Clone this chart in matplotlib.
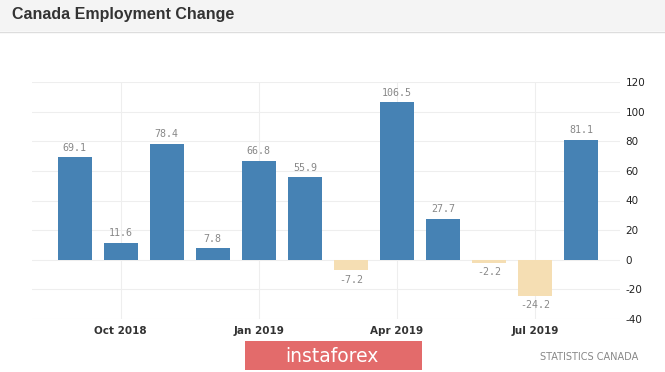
import matplotlib.pyplot as plt
from matplotlib.patches import Rectangle
import numpy as np

plt.rcParams['axes.unicode_minus'] = False

# monthly employment change, thousands (Sep 2018 .. Aug 2019)
months = ['Sep 2018', 'Oct 2018', 'Nov 2018', 'Dec 2018', 'Jan 2019', 'Feb 2019',
          'Mar 2019', 'Apr 2019', 'May 2019', 'Jun 2019', 'Jul 2019', 'Aug 2019']
values = [69.1, 11.6, 78.4, 7.8, 66.8, 55.9, -7.2, 106.5, 27.7, -2.2, -24.2, 81.1]
tick_months = ['Oct 2018', 'Jan 2019', 'Apr 2019', 'Jul 2019']
yticks = [-40, -20, 0, 20, 40, 60, 80, 100, 120]

fig = plt.figure(figsize=(6.65, 3.72), dpi=100)

# header band
fig.patches.append(Rectangle((0, 1 - 31/372), 1, 31/372, transform=fig.transFigure,
                             facecolor='#f4f4f4', edgecolor='none', zorder=0))
fig.add_artist(plt.Line2D([0, 1], [1 - 32/372, 1 - 32/372], transform=fig.transFigure,
                          color='#dddddd', lw=1))
fig.text(12/665, 1 - 15/372, 'Canada Employment Change', family='Liberation Sans',
         weight='bold', fontsize=11.5, color='#333333', va='center', ha='left')

ax = fig.add_axes([32/665, 1 - 319/372, 588/665, 237/372])
x = np.arange(len(values))
colors = ['#4682b4' if v >= 0 else '#f5deb3' for v in values]
ax.bar(x, values, width=0.74, color=colors, zorder=3)

for xi, v in zip(x, values):
    if v >= 0:
        ax.text(xi, v + 3, f'{v:.1f}', ha='center', va='bottom', fontsize=7.2,
                color='#888888', family='DejaVu Sans Mono')
    else:
        ax.text(xi, v - 3, f'{v:.1f}', ha='center', va='top', fontsize=7.2,
                color='#888888', family='DejaVu Sans Mono')

ax.set_xlim(-0.93, 11.85)
ax.set_ylim(-40, 120)
ax.set_yticks(yticks)
ax.set_xticks([months.index(m) for m in tick_months])
ax.set_xticklabels(tick_months)
ax.yaxis.tick_right()
ax.tick_params(axis='y', length=0, pad=4, labelsize=7.5, labelcolor='#222222')
ax.tick_params(axis='x', length=0, pad=5, labelsize=7.5, labelcolor='#333333')
for lab in ax.get_xticklabels():
    lab.set_fontweight('semibold')
ax.grid(True, color='#eeeeee', lw=0.8, zorder=0)
for s in ax.spines.values():
    s.set_visible(False)

# watermark / source
fig.patches.append(Rectangle((245/665, 1 - 370/372), 177/665, 29/372, transform=fig.transFigure,
                             facecolor='#e36b6b', edgecolor='none', zorder=1))
fig.text(332/665, 1 - 356/372, 'instaforex', ha='center', va='center', fontsize=13.5,
         color='white', family='DejaVu Sans')
fig.text(638/665, 1 - 357/372, 'STATISTICS CANADA', ha='right', va='center', fontsize=7,
         color='#888888')

fig.savefig('out.png', dpi=100)
